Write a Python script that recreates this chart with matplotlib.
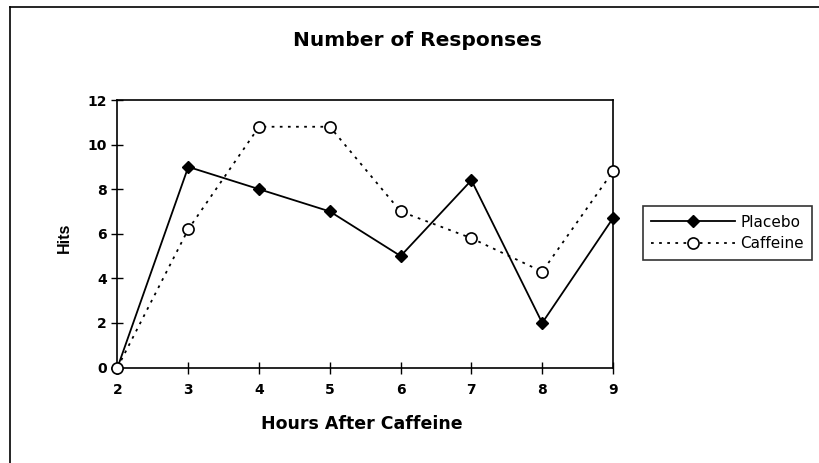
import matplotlib
matplotlib.use("Agg")
import matplotlib.pyplot as plt
from matplotlib.lines import Line2D

hours = [2, 3, 4, 5, 6, 7, 8, 9]
placebo = [0, 9, 8, 7, 5, 8.4, 2, 6.7]
caffeine = [0, 6.2, 10.8, 10.8, 7, 5.8, 4.3, 8.8]
yticks = [0, 2, 4, 6, 8, 10, 12]

plt.rcParams['font.family'] = ['DejaVu Sans']

fig = plt.figure(figsize=(8.2, 4.63), dpi=100)
W, H = 820, 463
ax = fig.add_axes([117.5/W, 1 - 367.5/H, (613-117.5)/W, (367.5-100)/H])

ax.plot(hours, placebo, color='black', lw=1.3, marker='D', ms=6.5,
        mfc='black', mec='black', label='Placebo', clip_on=False, zorder=3)
ax.plot(hours, caffeine, color='black', lw=1.3, ls=(0, (1.5, 3)), marker='o', ms=8,
        mfc='white', mec='black', mew=1.2, label='Caffeine', clip_on=False, zorder=4)

ax.set_xlim(2, 9)
ax.set_ylim(0, 12)
ax.set_xticks(hours)
ax.set_yticks(yticks)
ax.tick_params(axis='x', direction='inout', length=9, width=1, labelsize=10, pad=7)
ax.tick_params(axis='y', direction='inout', length=9, width=1, labelsize=10, pad=3)
for lab in ax.get_xticklabels() + ax.get_yticklabels():
    lab.set_fontweight('bold')
for s in ax.spines.values():
    s.set_linewidth(1.2)
    s.set_color('black')

fig.text(362/W, 1 - 424/H, 'Hours After Caffeine', ha='center', va='center',
         fontsize=12.5, fontweight='bold')
fig.text(64/W, 1 - 238/H, 'Hits', ha='center', va='center', rotation=90,
         fontsize=11.5, fontweight='bold', family=['Liberation Sans', 'DejaVu Sans'])
fig.text(417/W, 1 - 40/H, 'Number of Responses', ha='center', va='center',
         fontsize=14.5, fontweight='bold')

leg = ax.legend(loc='center left', bbox_to_anchor=(643/W, 1 - 233/H),
                bbox_transform=fig.transFigure, frameon=True, fancybox=False,
                edgecolor='black', fontsize=11, handlelength=5.5,
                borderpad=0.55, labelspacing=0.45, handletextpad=0.3,
                borderaxespad=0)
leg.get_frame().set_linewidth(1.2)

fig.add_artist(Line2D([10/W, 10/W], [0, 1 - 7/H], transform=fig.transFigure,
                      color='black', lw=1.2))
fig.add_artist(Line2D([10/W, 1], [1 - 7/H, 1 - 7/H], transform=fig.transFigure,
                      color='black', lw=1.2))

fig.savefig('out.png', dpi=100)
